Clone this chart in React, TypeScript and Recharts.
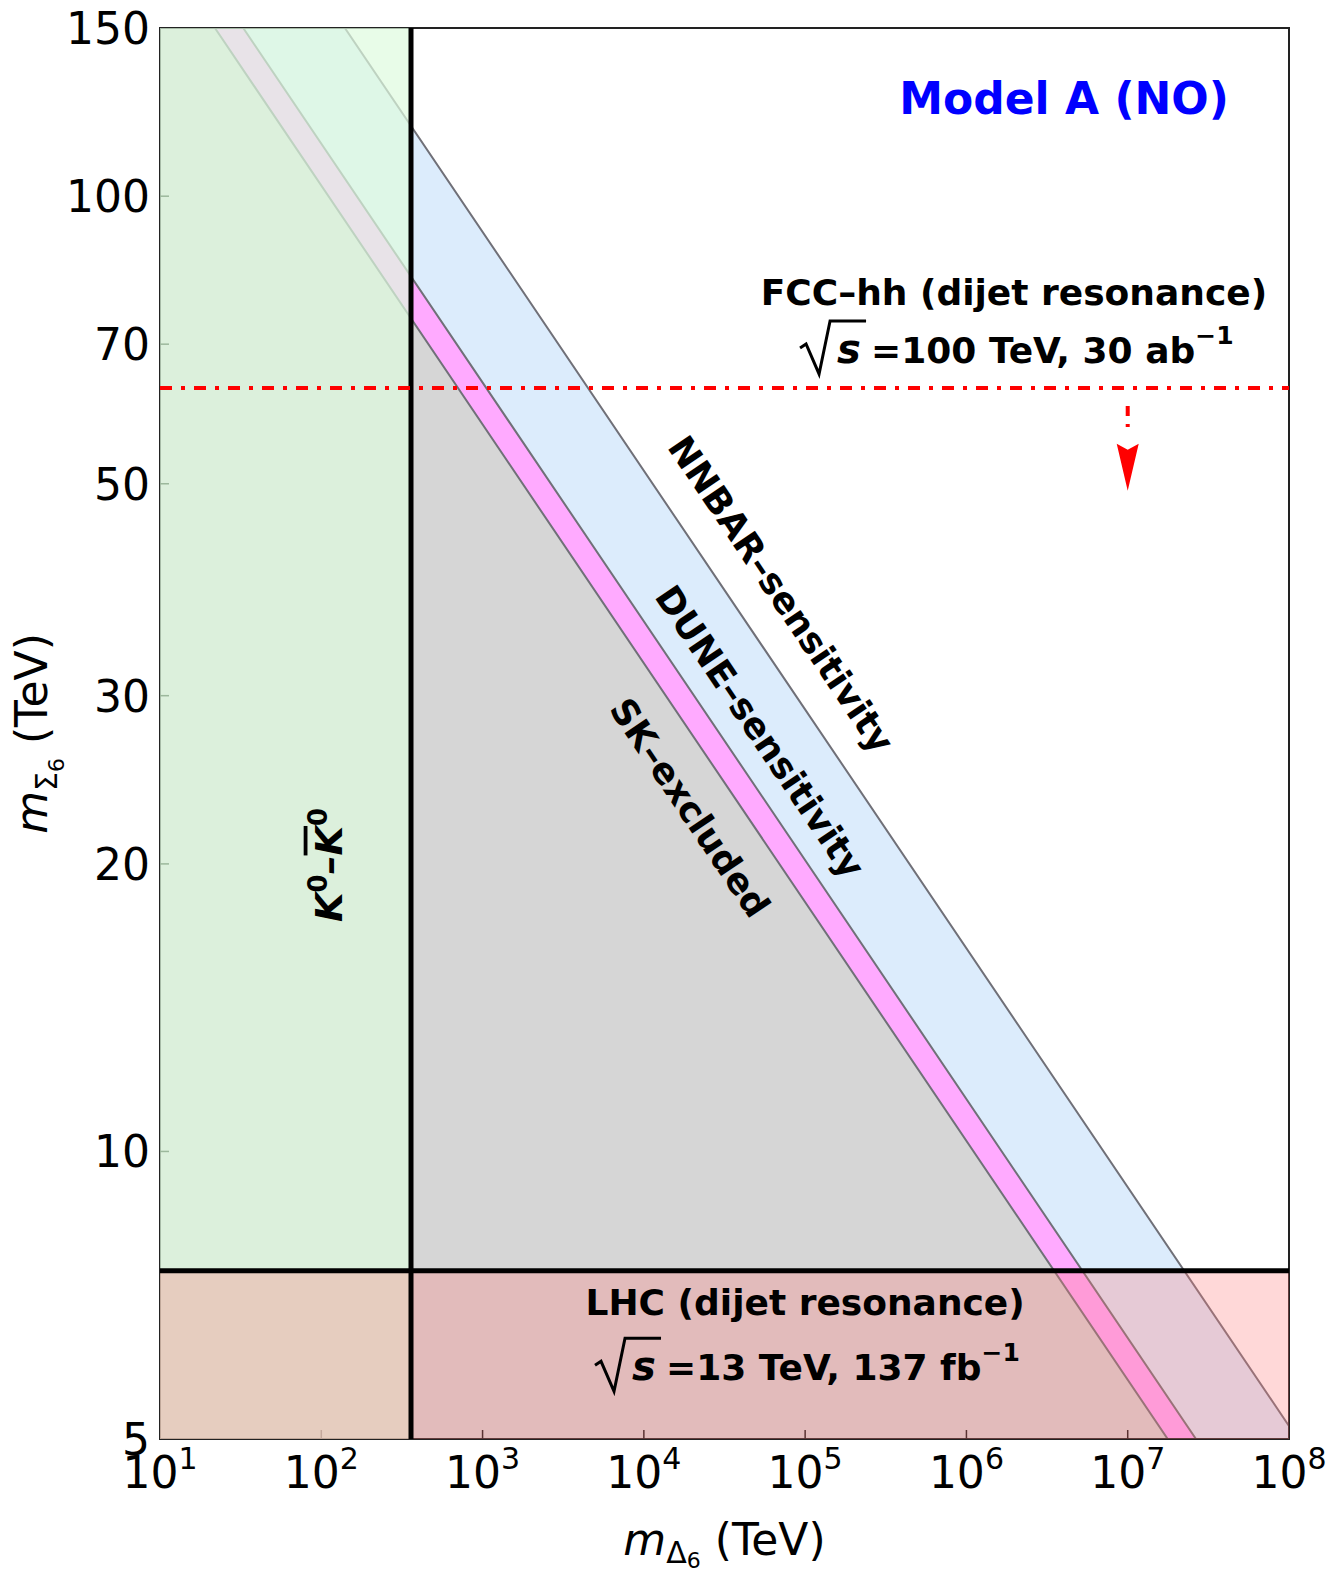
import React from "react";
import {
  ComposedChart,
  Area,
  XAxis,
  YAxis,
  ReferenceArea,
  ReferenceLine,
  ReferenceDot,
} from "recharts";

const FONT = "'DejaVu Sans', sans-serif";

const xTicks = [1e1, 1e2, 1e3, 1e4, 1e5, 1e6, 1e7, 1e8];
const yTicks = [5, 10, 20, 30, 50, 70, 100, 150];

// outline of the region under each boundary, read where it meets the frame
const nnbarEdge = [
  { x: 10, y: 150 },
  { x: 140, y: 150 },
  { x: 1e8, y: 5.16 },
];
const duneEdge = [
  { x: 10, y: 150 },
  { x: 32.8, y: 150 },
  { x: 2.65e7, y: 5 },
];
const skEdge = [
  { x: 10, y: 150 },
  { x: 21.9, y: 150 },
  { x: 1.77e7, y: 5 },
];

const kaonBound = 360; // m_Delta6 lower limit from K0-K0bar
const lhcBound = 7.5; // m_Sigma6 lower limit, LHC dijet
const fccBound = 63; // FCC-hh reach
const fccArrow = [
  { x: 1e7, y: 63 },
  { x: 1e7, y: 54.8 },
];

const XTick = ({ x, y, payload }: any) => {
  const p = Math.round(Math.log10(payload.value));
  const edge = payload.value === 1e1 || payload.value === 1e8;
  return (
    <g>
      {!edge && (
        <line
          x1={x}
          x2={x}
          y1={y}
          y2={y - 9}
          stroke={payload.value < kaonBound ? "#c4a89c" : "#5a3232"}
          strokeWidth={1.5}
        />
      )}
      <text x={x} y={y + 49} textAnchor="middle" fontFamily={FONT} fontSize={44} fill="#000">
        10
        <tspan dy={-19} fontSize={30}>
          {p}
        </tspan>
      </text>
    </g>
  );
};

const YTick = ({ x, y, payload }: any) => {
  const edge = payload.value === 5 || payload.value === 150;
  return (
    <g>
      {!edge && <line x1={x} x2={x + 9} y1={y} y2={y} stroke="#9cb89c" strokeWidth={1.5} />}
      <text x={x - 10} y={y + 16} textAnchor="end" fontFamily={FONT} fontSize={44} fill="#000">
        {payload.value}
      </text>
    </g>
  );
};

const XTitle = (props: any) => {
  const vb = props.viewBox || { x: 160, y: 1439, width: 1129, height: 138 };
  const cx = vb.x + vb.width / 2;
  const by = vb.y + 116;
  return (
    <text x={cx} y={by} textAnchor="middle" fontFamily={FONT} fontSize={44} fill="#000">
      <tspan fontStyle="italic">m</tspan>
      <tspan fontSize={30} dy={8}>Δ</tspan>
      <tspan fontSize={22} dy={5}>6</tspan>
      <tspan dy={-13}>{"\u00a0(TeV)"}</tspan>
    </text>
  );
};

const YTitle = (props: any) => {
  const vb = props.viewBox || { x: 0, y: 28, width: 160, height: 1411 };
  const cx = 47;
  const cy = vb.y + vb.height / 2;
  return (
    <text
      x={cx}
      y={cy}
      transform={`rotate(-90 ${cx} ${cy})`}
      textAnchor="middle"
      fontFamily={FONT}
      fontSize={44}
      fill="#000"
    >
      <tspan fontStyle="italic">m</tspan>
      <tspan fontSize={30} dy={10}>Σ</tspan>
      <tspan fontSize={22} dy={7}>6</tspan>
      <tspan dy={-17}>{"\u00a0(TeV)"}</tspan>
    </text>
  );
};

const RootLabel = ({ cx, cy, text }: { cx: number; cy: number; text: string }) => (
  <g fontFamily={FONT} fill="#000">
    <path
      d={`M${cx},${cy - 15} L${cx + 6},${cy - 19} L${cx + 19},${cy + 11} L${cx + 30},${cy - 42} L${cx + 66},${cy - 42}`}
      fill="none"
      stroke="#000"
      strokeWidth={3}
    />
    <text x={cx + 37} y={cy} fontSize={40} fontStyle="italic" fontWeight="bold">
      s
    </text>
    <text x={cx + 71} y={cy} fontSize={36} fontWeight="bold">
      {text}
      <tspan dy={-19} fontSize={25}>
        −1
      </tspan>
    </text>
  </g>
);

const slanted = (label: string) => (p: any) => (
  <text
    x={p.cx}
    y={p.cy}
    transform={`rotate(56 ${p.cx} ${p.cy})`}
    textAnchor="middle"
    dominantBaseline="central"
    fontFamily={FONT}
    fontSize={36}
    fontWeight="bold"
    fill="#000"
  >
    {label}
  </text>
);

const plain = (label: string, size: number, color: string) => (p: any) => (
  <text
    x={p.cx}
    y={p.cy}
    textAnchor="middle"
    fontFamily={FONT}
    fontSize={size}
    fontWeight="bold"
    fill={color}
  >
    {label}
  </text>
);

export default function App() {
  return (
    <div style={{ position: "absolute", left: 0, top: 0, background: "#fff" }}>
      <ComposedChart
        width={1329}
        height={1577}
        margin={{ top: 28, right: 40, bottom: 0, left: 0 }}
      >
        <XAxis
          dataKey="x"
          type="number"
          scale="log"
          domain={[10, 1e8]}
          ticks={xTicks}
          interval={0}
          allowDataOverflow
          axisLine={false}
          tickLine={false}
          tickSize={0}
          tickMargin={0}
          height={138}
          tick={<XTick />}
          label={{ content: (p: any) => <XTitle {...p} /> }}
        />
        <YAxis
          type="number"
          scale="log"
          domain={[5, 150]}
          ticks={yTicks}
          interval={0}
          allowDataOverflow
          axisLine={false}
          tickLine={false}
          tickSize={0}
          tickMargin={0}
          width={160}
          tick={<YTick />}
          label={{ content: (p: any) => <YTitle {...p} /> }}
        />

        <Area
          data={nnbarEdge}
          dataKey="y"
          type="linear"
          baseValue={5}
          fill="#dcecfc"
          fillOpacity={1}
          stroke="#707078"
          strokeWidth={2}
          dot={false}
          activeDot={false}
          isAnimationActive={false}
          zIndex={100}
        />
        <Area
          data={duneEdge}
          dataKey="y"
          type="linear"
          baseValue={5}
          fill="#ffaaff"
          fillOpacity={1}
          stroke="#707078"
          strokeWidth={2}
          dot={false}
          activeDot={false}
          isAnimationActive={false}
          zIndex={101}
        />
        <Area
          data={skEdge}
          dataKey="y"
          type="linear"
          baseValue={5}
          fill="#d6d6d6"
          fillOpacity={1}
          stroke="#707078"
          strokeWidth={2}
          dot={false}
          activeDot={false}
          isAnimationActive={false}
          zIndex={102}
        />

        <ReferenceArea
          x1={10}
          x2={1e8}
          y1={5}
          y2={150}
          fill="none"
          stroke="#222"
          strokeWidth={2}
          ifOverflow="visible"
          zIndex={103}
        />
        <ReferenceArea
          x1={10}
          x2={kaonBound}
          y1={5}
          y2={150}
          fill="rgb(222,251,222)"
          fillOpacity={0.71}
          stroke="none"
          zIndex={104}
        />
        <ReferenceArea
          x1={10}
          x2={1e8}
          y1={5}
          y2={lhcBound}
          fill="rgb(255,120,120)"
          fillOpacity={0.29}
          stroke="none"
          zIndex={105}
        />

        <ReferenceLine x={kaonBound} stroke="#000" strokeWidth={5} zIndex={106} />
        <ReferenceLine y={lhcBound} stroke="#000" strokeWidth={5} zIndex={106} />
        <ReferenceLine
          y={fccBound}
          stroke="#ff0000"
          strokeWidth={4}
          strokeDasharray="12 9 4 9"
          zIndex={107}
        />
        <ReferenceLine
          segment={fccArrow}
          stroke="#ff0000"
          strokeWidth={4}
          strokeDasharray="0 18 10 8 3 9"
          zIndex={107}
        />
        <ReferenceDot
          x={1e7}
          y={54.8}
          r={0}
          zIndex={108}
          shape={(p: any) => (
            <polygon
              points={`${p.cx - 11},${p.cy - 2} ${p.cx},${p.cy + 4} ${p.cx + 11},${p.cy - 2} ${p.cx},${p.cy + 45}`}
              fill="#ff0000"
            />
          )}
        />

        <ReferenceDot x={4.03e6} y={122} r={0} zIndex={110} shape={plain("Model A (NO)", 44, "#0000ff")} />
        <ReferenceDot x={1.97e6} y={76.9} r={0} zIndex={110} shape={plain("FCC–hh (dijet resonance)", 36, "#000")} />
        <ReferenceDot
          x={9.3e4}
          y={66.9}
          r={0}
          zIndex={110}
          shape={(p: any) => <RootLabel cx={p.cx} cy={p.cy} text="=100 TeV, 30 ab" />}
        />
        <ReferenceDot x={1.0e5} y={6.74} r={0} zIndex={110} shape={plain("LHC (dijet resonance)", 36, "#000")} />
        <ReferenceDot
          x={4980}
          y={5.76}
          r={0}
          zIndex={110}
          shape={(p: any) => <RootLabel cx={p.cx} cy={p.cy} text="=13 TeV, 137 fb" />}
        />

        <ReferenceDot x={7.1e4} y={38.3} r={0} zIndex={110} shape={slanted("NNBAR–sensitivity")} />
        <ReferenceDot x={5.25e4} y={27.5} r={0} zIndex={110} shape={slanted("DUNE–sensitivity")} />
        <ReferenceDot x={1.93e4} y={22.9} r={0} zIndex={110} shape={slanted("SK–excluded")} />
        <ReferenceDot
          x={108}
          y={19.95}
          r={0}
          zIndex={110}
          shape={(p: any) => (
            <text
              x={p.cx + 15}
              y={p.cy}
              transform={`rotate(-90 ${p.cx + 15} ${p.cy})`}
              textAnchor="middle"
              fontFamily={FONT}
              fontSize={38}
              fontWeight="bold"
              fontStyle="italic"
              fill="#000"
            >
              K
              <tspan dy={-15} fontSize={26} fontStyle="normal">0</tspan>
              <tspan dy={15}>–</tspan>
              <tspan style={{ textDecoration: "overline" }}>K</tspan>
              <tspan dy={-15} fontSize={26} fontStyle="normal">0</tspan>
            </text>
          )}
        />
      </ComposedChart>
    </div>
  );
}
